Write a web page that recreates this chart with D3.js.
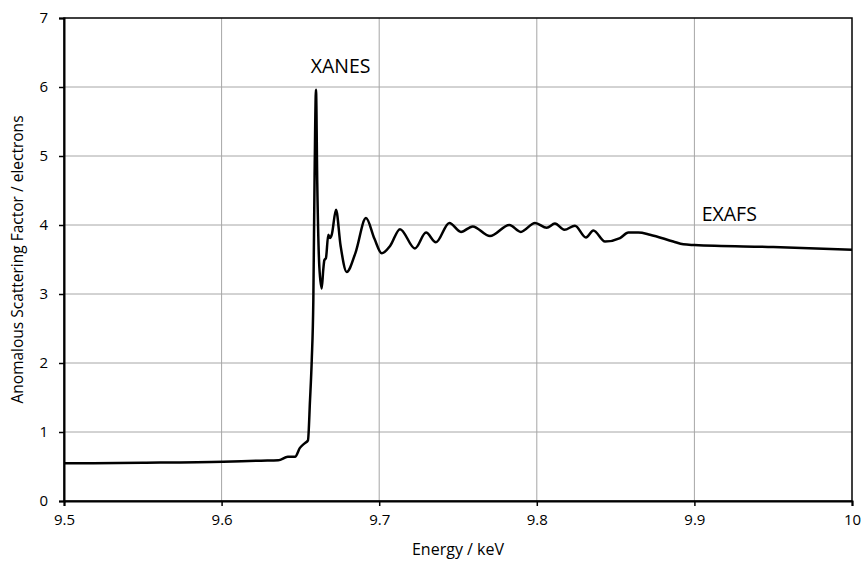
<!DOCTYPE html>
<html>
<head>
<meta charset="utf-8">
<style>
  body { margin: 0; background: #fff; }
  svg { display: block; }
  text { font-family: "Open Sans", Lato, sans-serif; fill: #000; }
</style>
<script src="https://d3js.org/d3.v7.min.js"></script>
</head>
<body>
<div id="chart"></div>
<script>
// energy in keV, factor in electrons
const energy = [9.500, 9.550, 9.601, 9.625, 9.636, 9.642, 9.6466, 9.6497, 9.6529, 9.6548,
  9.6561, 9.6572, 9.6582, 9.6590, 9.6599, 9.6607, 9.6620, 9.6635, 9.6645, 9.6652, 9.6662,
  9.6677, 9.6688, 9.6699, 9.6726, 9.6755, 9.6794, 9.6850, 9.6916, 9.6970, 9.7016, 9.7070,
  9.7132, 9.7227, 9.7297, 9.7360, 9.7445, 9.7519, 9.7593, 9.7703, 9.7826, 9.7898, 9.7989,
  9.8063, 9.8115, 9.8175, 9.8242, 9.8312, 9.8359, 9.8433, 9.8528, 9.8581, 9.8644, 9.8718,
  9.8866, 9.8930, 9.9000, 9.9500, 10.000];
const factor = [0.546, 0.555, 0.570, 0.585, 0.590, 0.640, 0.640, 0.770, 0.840, 0.880,
  1.460, 2.040, 2.900, 4.700, 5.960, 4.600, 3.400, 3.080, 3.350, 3.490, 3.520,
  3.860, 3.810, 3.860, 4.220, 3.700, 3.320, 3.600, 4.100, 3.800, 3.590, 3.700,
  3.940, 3.660, 3.890, 3.750, 4.030, 3.900, 3.980, 3.840, 4.000, 3.900, 4.030,
  3.960, 4.020, 3.930, 3.990, 3.820, 3.920, 3.760, 3.810, 3.890, 3.890, 3.860,
  3.760, 3.720, 3.710, 3.680, 3.640];

const xTicks = [9.5, 9.6, 9.7, 9.8, 9.9, 10];
const yTicks = [0, 1, 2, 3, 4, 5, 6, 7];
const notes = [
  { label: "XANES", e: 9.6565, v: 6.20 },
  { label: "EXAFS", e: 9.9046, v: 4.06 }
];

const W = 863, H = 567;
const m = { left: 64, right: 11, top: 18, bottom: 66 };

const svg = d3.select("#chart").append("svg")
  .attr("width", W).attr("height", H);

const x = d3.scaleLinear().domain([9.5, 10]).range([m.left, W - m.right]);
const y = d3.scaleLinear().domain([0, 7]).range([H - m.bottom, m.top]);

// grid
svg.append("g").selectAll("line").data(xTicks.slice(1, -1)).join("line")
  .attr("x1", d => x(d)).attr("x2", d => x(d))
  .attr("y1", y(0)).attr("y2", y(7))
  .attr("stroke", "#a6a6a6").attr("stroke-width", 1);
svg.append("g").selectAll("line").data(yTicks.slice(1, -1)).join("line")
  .attr("x1", x(9.5)).attr("x2", x(10))
  .attr("y1", d => y(d)).attr("y2", d => y(d))
  .attr("stroke", "#a6a6a6").attr("stroke-width", 1);

// frame
svg.append("rect")
  .attr("x", x(9.5)).attr("y", y(7))
  .attr("width", x(10) - x(9.5)).attr("height", y(0) - y(7))
  .attr("fill", "none").attr("stroke", "#000").attr("stroke-width", 1.5);

// axes
const xAxis = svg.append("g")
  .attr("transform", `translate(0,${y(0)})`)
  .call(d3.axisBottom(x).tickValues(xTicks).tickSize(5).tickPadding(8)
    .tickFormat(d3.format("")));
const yAxis = svg.append("g")
  .attr("transform", `translate(${x(9.5)},0)`)
  .call(d3.axisLeft(y).tickValues(yTicks).tickSize(5).tickPadding(11)
    .tickFormat(d3.format("d")));
[xAxis, yAxis].forEach(g => {
  g.select(".domain").attr("stroke", "#000").attr("stroke-width", 2);
  g.selectAll(".tick line").attr("stroke", "#000").attr("stroke-width", 1.5);
  g.selectAll(".tick text").style("font-family", "'Open Sans', Lato, sans-serif")
    .style("font-size", "15px").attr("fill", "#000");
});

// curve
const pts = energy.map((e, i) => [e, factor[i]]);
svg.append("path")
  .datum(pts)
  .attr("fill", "none")
  .attr("stroke", "#000")
  .attr("stroke-width", 2.5)
  .attr("stroke-linejoin", "round")
  .attr("d", d3.line().x(d => x(d[0])).y(d => y(d[1])).curve(d3.curveMonotoneX));

// annotations
svg.append("g").selectAll("text").data(notes).join("text")
  .attr("x", d => x(d.e)).attr("y", d => y(d.v))
  .style("font-size", "19.5px")
  .text(d => d.label);

// axis titles
svg.append("text")
  .attr("x", (x(9.5) + x(10)) / 2).attr("y", 555)
  .attr("text-anchor", "middle").style("font-size", "16px")
  .text("Energy / keV");
svg.append("text")
  .attr("transform", `translate(23,${(y(0) + y(7)) / 2}) rotate(-90)`)
  .attr("text-anchor", "middle").style("font-size", "15.5px")
  .text("Anomalous Scattering Factor / electrons");
</script>
</body>
</html>
